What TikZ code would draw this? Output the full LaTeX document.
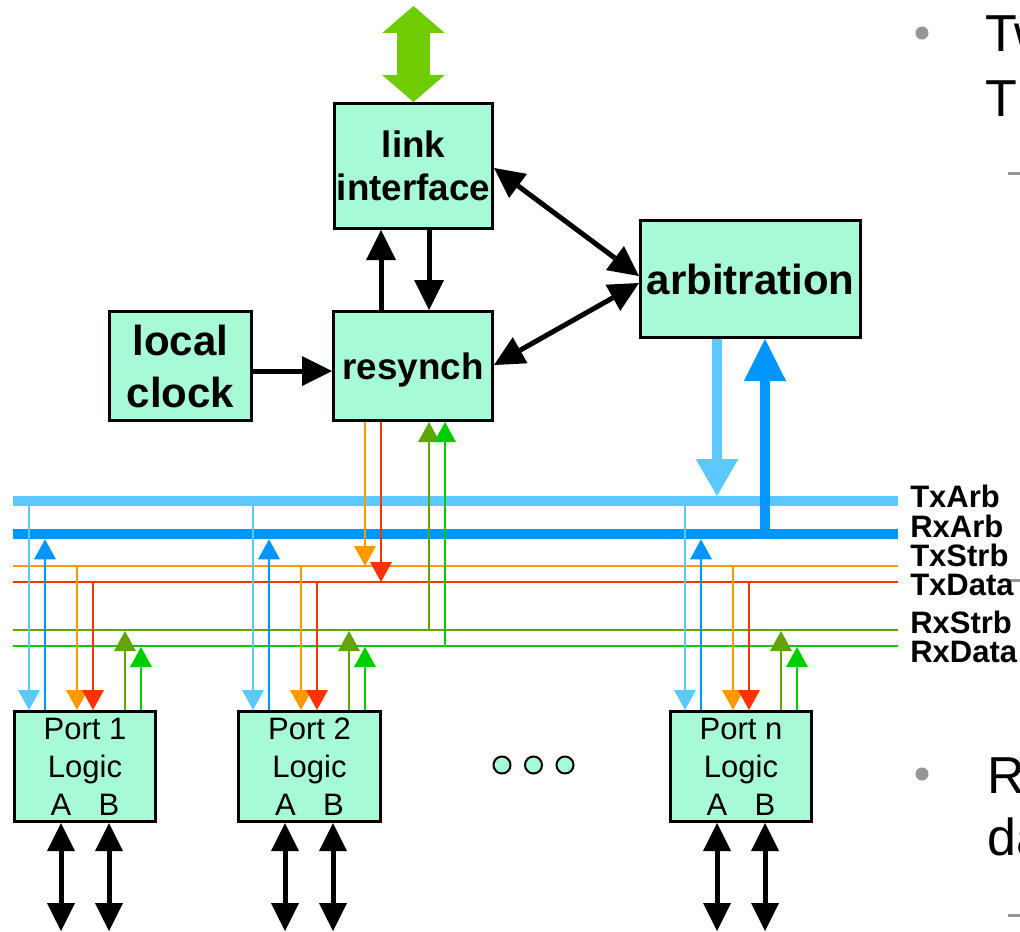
\documentclass[tikz,border=0pt]{standalone}
\usepackage{fontspec}
\setmainfont{Liberation Sans}
\usetikzlibrary{arrows.meta}

\definecolor{boxfill}{RGB}{166,250,214}
\definecolor{linkgreen}{RGB}{110,204,0}
\definecolor{txarbc}{RGB}{91,200,255}
\definecolor{rxarbc}{RGB}{0,150,255}
\definecolor{txstrbc}{RGB}{255,153,0}
\definecolor{txdatac}{RGB}{255,51,0}
\definecolor{rxstrbc}{RGB}{94,165,0}
\definecolor{rxdatac}{RGB}{0,204,0}
\definecolor{slidegray}{RGB}{150,150,150}

\tikzset{
  BigTip/.tip={Triangle[length=22.5pt,width=22.5pt,line width=0pt]},
  PortTip/.tip={Triangle[length=21pt,width=21pt,line width=0pt]},
  ThinTip/.tip={Triangle[length=15pt,width=16.5pt,line width=0pt]},
  LbTip/.tip={Triangle[length=27.75pt,width=32pt,line width=0pt]},
  BlTip/.tip={Triangle[length=31.5pt,width=31.7pt,line width=0pt]},
  GreenTip/.tip={Triangle[length=20.25pt,width=47pt,line width=0pt]},
}

\begin{document}
\begin{tikzpicture}[x=0.75pt,y=-0.75pt,
  block/.style={draw=black, line width=2.25pt, fill=boxfill, inner sep=0pt, align=center},
  bigfont/.style={font=\fontsize{31.5}{39}\selectfont\bfseries},
  midfont/.style={font=\fontsize{27.6}{32.25}\selectfont\bfseries},
  portbox/.style={block, minimum width=105.75pt, minimum height=82.5pt,
                  font=\fontsize{23.25}{28.5}\selectfont},
  flow/.style={line width=3.75pt, black},
  wire/.style={line width=1.65pt},
  widebus/.style={line width=8pt},
  buslabel/.style={anchor=base west, inner sep=0pt, font=\fontsize{23.25}{28}\selectfont\bfseries},
  slidetext/.style={anchor=base west, inner sep=0pt, font=\fontsize{39}{46}\selectfont},
  slidedash/.style={slidegray, line width=2.25pt},
  dot/.style={circle, draw=black, line width=1.5pt, fill=boxfill, minimum size=12.75pt, inner sep=0pt},
]
\useasboundingbox (0,0) rectangle (1020,931);
\clip (0,0) rectangle (1020,931);

% ---- functional blocks ----
\node[block, midfont, minimum width=118.5pt, minimum height=93.75pt] (link) at (413.5,166) {link\\interface};
\node[block, midfont, text depth=0pt, minimum width=119.25pt, minimum height=81.75pt] (resynch) at (413,366) {resynch};
\node[block, bigfont, minimum width=106.5pt, minimum height=81.75pt] (local) at (180.5,366) {local\\clock};
\node[block, bigfont, minimum width=165pt, minimum height=87.75pt] (arb) at (750.5,279) {arbitration};

% ---- port logic blocks ----
\node[portbox] (p1) at (85,766.5) {Port 1\\Logic\\\makebox[36pt]{\makebox[0pt]{A}\hfill\makebox[0pt]{B}}};
\node[portbox, minimum width=106.5pt] (p2) at (309.5,766.5) {Port 2\\Logic\\\makebox[36pt]{\makebox[0pt]{A}\hfill\makebox[0pt]{B}}};
\node[portbox] (pn) at (741,766.5) {Port n\\Logic\\\makebox[36pt]{\makebox[0pt]{A}\hfill\makebox[0pt]{B}}};

\foreach \i/\x in {1/502,2/533.5,3/565}
  \node[dot] (dot\i) at (\x,765) {};

% ---- bus lines ----
\coordinate (txarbL) at (13,501);   \coordinate (txarbR) at (898,501);
\coordinate (rxarbL) at (13,534);   \coordinate (rxarbR) at (898,534);
\coordinate (txstrbL) at (13,566);  \coordinate (txstrbR) at (898,566);
\coordinate (txdataL) at (13,582);  \coordinate (txdataR) at (898,582);
\coordinate (rxstrbL) at (13,630);  \coordinate (rxstrbR) at (898,630);
\coordinate (rxdataL) at (13,646);  \coordinate (rxdataR) at (898,646);

\draw[widebus, txarbc] (txarbL) -- (txarbR);
\draw[widebus, rxarbc] (rxarbL) -- (rxarbR);
\draw[wire, txstrbc] (txstrbL) -- (txstrbR);
\draw[wire, txdatac] (txdataL) -- (txdataR);
\draw[wire, rxstrbc] (rxstrbL) -- (rxstrbR);
\draw[wire, rxdatac] (rxdataL) -- (rxdataR);

% ---- arbitration to/from the arbitration buses ----
\coordinate (arbIn) at (717,496);
\coordinate (arbOut) at (765,539);
\draw[widebus, txarbc, -LbTip] (717,0 |- arb.south) -- (arbIn);
\draw[line width=7.5pt, rxarbc, -BlTip] (arbOut) -- (765,0 |- arb.south);

% ---- resynch to/from the strobe and data lines ----
\draw[wire, txstrbc, -ThinTip] (365,0 |- resynch.south) -- (365,0 |- txstrbL);
\draw[wire, txdatac, -ThinTip] (381,0 |- resynch.south) -- (381,0 |- txdataL);
\draw[wire, rxstrbc, -ThinTip] (429,0 |- rxstrbL) -- (429,0 |- resynch.south);
\draw[wire, rxdatac, -ThinTip] (445,0 |- rxdataL) -- (445,0 |- resynch.south);

% ---- port taps ----
\foreach \n/\L in {p1/13,p2/237,pn/669}{
  \draw[wire, txarbc, -ThinTip] (\L+16,0 |- txarbL) -- (\L+16,0 |- \n.north);
  \draw[wire, rxarbc, -ThinTip] (\L+32,0 |- \n.north) -- (\L+32,539.3);
  \draw[wire, txstrbc, -ThinTip] (\L+64,0 |- txstrbL) -- (\L+64,0 |- \n.north);
  \draw[wire, txdatac, -ThinTip] (\L+80,0 |- txdataL) -- (\L+80,0 |- \n.north);
  \draw[wire, rxstrbc, -ThinTip] (\L+112,0 |- \n.north) -- (\L+112,631);
  \draw[wire, rxdatac, -ThinTip] (\L+128,0 |- \n.north) -- (\L+128,647);
  \coordinate (\n A) at (\L+48,931);
  \coordinate (\n B) at (\L+96,931);
  \draw[flow, PortTip-PortTip] (\L+48,0 |- \n.south) -- (\n A);
  \draw[flow, PortTip-PortTip] (\L+96,0 |- \n.south) -- (\n B);
}

% ---- black control arrows ----
\draw[flow, -BigTip] (local.east |- 0,371) -- (resynch.west |- 0,371);
\draw[flow, -BigTip] (381,0 |- resynch.north) -- (381,0 |- link.south);
\draw[flow, -BigTip] (429,0 |- link.south) -- (429,0 |- resynch.north);
\draw[flow, BigTip-BigTip] (link.east |- 0,168) -- (arb.west |- 0,276);
\draw[flow, BigTip-BigTip] (resynch.east |- 0,365) -- (arb.west |- 0,283);

% ---- external link ----
\coordinate (ext) at (413.5,6);
\draw[linkgreen, line width=24.5pt, GreenTip-GreenTip] (link.north) -- (ext);

% ---- slide bullets behind the figure ----
\fill[slidegray] (922,33) circle (4.9pt);
\node[slidetext] (s1) at (985,52) {Tw};
\node[slidetext] (s2) at (985,116) {T};
\draw[slidedash] (1008,173) -- (1020,173);
\draw[slidedash] (1008,580) -- (1020,580);
\fill[slidegray] (922,774) circle (4.9pt);
\node[slidetext] (s3) at (987,793) {R};
\node[slidetext] (s4) at (987,855) {da};
\draw[slidedash] (1008,915) -- (1020,915);

% ---- bus labels ----
\node[buslabel] (lTxArb)  at (910,507) {TxArb};
\node[buslabel] (lRxArb)  at (910,537) {RxArb};
\node[buslabel] (lTxStrb) at (910,566) {TxStrb};
\node[buslabel] (lTxData) at (910,595) {TxData};
\node[buslabel] (lRxStrb) at (910,633) {RxStrb};
\node[buslabel] (lRxData) at (910,662) {RxData};
\end{tikzpicture}
\end{document}
